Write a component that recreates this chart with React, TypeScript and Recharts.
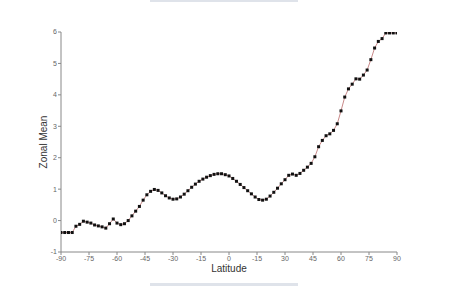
import React from "react";
import { LineChart, Line, XAxis, YAxis, Label } from "recharts";

const latitudes: number[] = [
  -90, -88, -86, -84, -82, -80, -78, -76, -74, -72, -70, -68, -66, -64, -62, -60,
  -58, -56, -54, -52, -50, -48, -46, -44, -42, -40, -38, -36, -34, -32, -30, -28,
  -26, -24, -22, -20, -18, -16, -14, -12, -10, -8, -6, -4, -2, 0, 2, 4, 6, 8, 10,
  12, 14, 16, 18, 20, 22, 24, 26, 28, 30, 32, 34, 36, 38, 40, 42, 44, 46, 48, 50,
  52, 54, 56, 58, 60, 62, 64, 66, 68, 70, 72, 74, 76, 78, 80, 82, 84, 86, 88, 90,
];

const zonalMean: number[] = [
  -0.38, -0.38, -0.38, -0.38, -0.18, -0.12, -0.02, -0.05, -0.08, -0.14, -0.17, -0.2,
  -0.24, -0.1, 0.05, -0.08, -0.13, -0.1, 0.0, 0.15, 0.3, 0.45, 0.65, 0.82, 0.93,
  0.99, 0.96, 0.88, 0.79, 0.72, 0.68, 0.69, 0.75, 0.84, 0.95, 1.06, 1.16, 1.25,
  1.32, 1.38, 1.43, 1.47, 1.49, 1.49, 1.46, 1.42, 1.34, 1.25, 1.15, 1.05, 0.95,
  0.85, 0.75, 0.67, 0.65, 0.68, 0.78, 0.9, 1.03, 1.17, 1.3, 1.44, 1.48, 1.44,
  1.5, 1.6, 1.7, 1.82, 2.03, 2.35, 2.55, 2.7, 2.76, 2.87, 3.08, 3.49, 3.93, 4.19,
  4.34, 4.51, 4.5, 4.63, 4.79, 5.12, 5.49, 5.7, 5.79, 5.97, 5.97, 5.97, 5.97,
];

const xTicks: number[] = [-90, -75, -60, -45, -30, -15, 0, 15, 30, 45, 60, 75, 90];
const xTickLabels: string[] = ["-90", "-75", "-60", "-45", "-30", "-15", "0", "-15", "30", "45", "60", "75", "90"];
const yTicks: number[] = [-1, 0, 1, 2, 3, 4, 5, 6];

const data = latitudes.map((lat, i) => ({ lat, value: zonalMean[i] }));

const tickStyle = { fontSize: 7, fill: "#666", fontFamily: "Liberation Sans, Arial, sans-serif" };

const Dot = (props: any) => {
  const { cx, cy } = props;
  if (cx == null || cy == null) return null;
  return <rect x={cx - 1.5} y={cy - 1.5} width={3} height={3} fill="#111" />;
};

export default function App() {
  return (
    <div style={{ position: "absolute", left: 0, top: 0, width: 449, height: 286, background: "#fff", overflow: "hidden" }}>
      <div style={{ position: "absolute", left: 150, top: 0, width: 148, height: 2, background: "#dfe3ea" }} />
      <div style={{ position: "absolute", left: 150, top: 283, width: 148, height: 3, background: "#dfe3ea" }} />
      <LineChart
        width={449}
        height={286}
        data={data}
        margin={{ top: 32, right: 52, bottom: 4, left: 0 }}
      >
        <XAxis
          dataKey="lat"
          type="number"
          domain={[-90, 90]}
          ticks={xTicks}
          tickFormatter={(v: number) => xTickLabels[xTicks.indexOf(v)] ?? String(v)}
          tick={tickStyle}
          tickSize={3}
          tickMargin={1}
          height={30}
          stroke="#888"
          allowDataOverflow
        >
          <Label
            value="Latitude"
            position="insideBottom"
            offset={10}
            style={{ fontSize: 10, fill: "#333", fontFamily: "Liberation Sans, Arial, sans-serif" }}
          />
        </XAxis>
        <YAxis
          type="number"
          domain={[-1, 6]}
          ticks={yTicks}
          tick={tickStyle}
          tickSize={3}
          tickMargin={1}
          width={61}
          stroke="#888"
          allowDataOverflow
        >
          <Label
            value="Zonal Mean"
            angle={-90}
            position="insideLeft"
            offset={43}
            style={{ fontSize: 10, fill: "#333", fontFamily: "Liberation Sans, Arial, sans-serif", textAnchor: "middle" }}
          />
        </YAxis>
        <Line
          type="linear"
          dataKey="value"
          stroke="#c98a8a"
          strokeWidth={1}
          dot={<Dot />}
          activeDot={false}
          isAnimationActive={false}
        />
      </LineChart>
    </div>
  );
}
